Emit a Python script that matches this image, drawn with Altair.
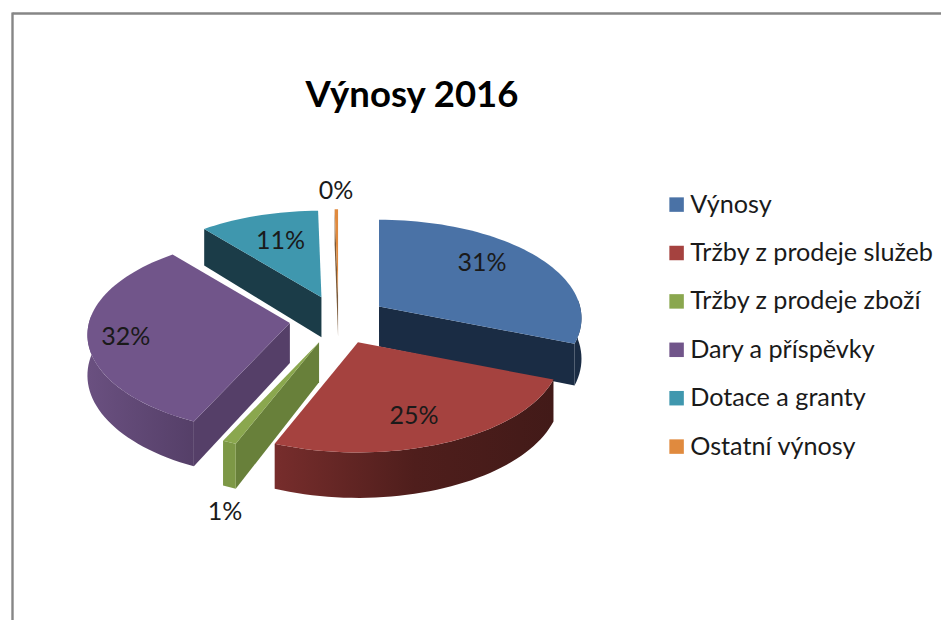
import math
import altair as alt
import pandas as pd

# ---- data ----
categories = ["Výnosy", "Tržby z prodeje služeb", "Tržby z prodeje zboží",
              "Dary a příspěvky", "Dotace a granty", "Ostatní výnosy"]
shares = [31.0, 25.0, 1.0, 32.0, 10.7, 0.3]
colors = ["#4a72a6", "#a5423f", "#8aa74e", "#71558a", "#3f97ae", "#e08a3e"]
title_text = "Výnosy 2016"

# ---- layout: projection of the tilted pie (pixels) ----
W, H = 933, 612
CX, CY = 338.5, 320.0
EX, EY = 49.0, 24.2      # explosion
RX, RY = 201.0, 97.0     # radii
P = 0.12                 # perspective
DEPTH = 40.0
FONT = "Lato"
LABEL_SHIFT = [(103, -43), (56, 74), (-94, 170), (-164, 14), (-41, -56), (-2, -105)]


def angles():
    out, a = [], 0.0
    for s in shares:
        out.append((a, a + s * 3.6))
        a += s * 3.6
    return out


def apex(i):
    a0, a1 = angles()[i]
    m = math.radians((a0 + a1) / 2)
    return CX + EX * math.sin(m), CY - EY * math.cos(m)


def pt(i, deg, down=False):
    ax, ay = apex(i)
    r = math.radians(deg)
    u, v = math.sin(r), -math.cos(r)
    k = 1 / (1 - P * v)
    return ax + RX * u * k, ay + RY * v * k + (DEPTH * k if down else 0)


def apex_pt(i, down=False):
    ax, ay = apex(i)
    return ax, ay + (DEPTH if down else 0)


def sweep(a0, a1):
    n = max(2, int(abs(a1 - a0) / 2) + 1)
    return [a0 + (a1 - a0) * j / (n - 1) for j in range(n)]


def top_face(i):
    a0, a1 = angles()[i]
    return [apex_pt(i)] + [pt(i, a) for a in sweep(a0, a1)]


def radial_wall(i, deg):
    return [apex_pt(i), pt(i, deg), pt(i, deg, True), apex_pt(i, True)]


def rim_wall(i, a0, a1):
    aa = sweep(a0, a1)
    return [pt(i, a) for a in aa] + [pt(i, a, True) for a in reversed(aa)]


def hgrad(c0, c1, c2=None):
    stops = [alt.GradientStop(color=c0, offset=0)]
    if c2:
        stops.append(alt.GradientStop(color=c1, offset=0.5))
        stops.append(alt.GradientStop(color=c2, offset=1))
    else:
        stops.append(alt.GradientStop(color=c1, offset=1))
    return alt.LinearGradient(gradient="linear", stops=stops, x1=0, x2=1, y1=0, y2=0)


X = alt.X("x:Q", scale=alt.Scale(domain=[0, W], range=[0, W], nice=False, zero=False), axis=None)
Y = alt.Y("y:Q", scale=alt.Scale(domain=[H, 0], range=[H, 0], nice=False, zero=False), axis=None)


def frame(points):
    return pd.DataFrame([{"x": px - 8, "y": py - 8, "i": j} for j, (px, py) in enumerate(points)])


def poly(points, fill):
    return alt.Chart(frame(points + points[:1])).mark_line(fill=fill, strokeWidth=0).encode(
        x=X, y=Y, order=alt.Order("i:Q"))


def edge(points, color, width):
    return alt.Chart(frame(points)).mark_line(color=color, strokeWidth=width).encode(
        x=X, y=Y, order=alt.Order("i:Q"))


A = angles()
layers = []
# cyan
layers += [poly(radial_wall(4, A[4][0]), "#1b3c48"), poly(top_face(4), colors[4])]
# orange
layers += [poly(radial_wall(5, A[5][0]), "#7a5a3a"), poly(top_face(5), colors[5])]
# blue
layers += [poly(radial_wall(0, A[0][1]), "#1a2c44"), poly(rim_wall(0, 86, A[0][1]), "#1a2c44"), poly(top_face(0), colors[0])]
# purple
layers += [poly(radial_wall(3, A[3][0]), "#553f68"),
           poly(rim_wall(3, A[3][0], 275), hgrad("#6a5080", "#553f68")),
           edge([apex_pt(3), pt(3, A[3][1])], "#ffffff", 1.5),
           poly(top_face(3), colors[3])]
# green
layers += [poly(radial_wall(2, A[2][0]), "#68803a"),
           poly(rim_wall(2, A[2][0], A[2][1]), "#7d9846"),
           poly(top_face(2), colors[2])]
# red
layers += [poly(rim_wall(1, A[1][0], A[1][1]), hgrad("#772d2c", "#4f1e1c", "#421a18")),
           poly(top_face(1), colors[1])]

# frame
layers += [
    alt.Chart(pd.DataFrame({"a": [0]})).mark_rule(color="#868686", strokeWidth=2.4).encode(
        x=alt.value(4.5), y=alt.value(4.5), y2=alt.value(H)),
    alt.Chart(pd.DataFrame({"a": [0]})).mark_rule(color="#868686", strokeWidth=2.4).encode(
        x=alt.value(4.5), x2=alt.value(W), y=alt.value(5.5)),
]

# percentage labels
lab = []
for i, s in enumerate(shares):
    ax, ay = apex(i)
    lab.append({"x": ax + LABEL_SHIFT[i][0] - 8, "y": ay + LABEL_SHIFT[i][1] - 8, "t": f"{round(s)}%"})
layers.append(alt.Chart(pd.DataFrame(lab)).mark_text(font=FONT, fontSize=25, color="#1a1a1a").encode(x=X, y=Y, text="t:N"))

# legend carrier
leg = alt.Chart(pd.DataFrame({"c": categories, "x": [0] * 6, "y": [0] * 6})).mark_square(opacity=0, size=1).encode(
    x=X, y=Y,
    color=alt.Color("c:N", scale=alt.Scale(domain=categories, range=colors),
                    legend=alt.Legend(orient="none", legendX=656, legendY=184, title=None,
                                      symbolType="square", symbolSize=210, symbolOpacity=1,
                                      symbolStrokeWidth=0, labelFont=FONT, labelFontSize=25.2,
                                      labelColor="#1a1a1a", labelOffset=1, rowPadding=22.4,
                                      labelLimit=300)))
layers.append(leg)

chart = alt.layer(*layers).properties(
    width=W, height=H, padding=0, autosize=alt.AutoSizeParams(type="none"),
    title=alt.TitleParams(title_text, anchor="middle", font=FONT, fontSize=36.5, fontWeight="bold",
                          color="#000000", dx=-62.5, dy=136, offset=0, baseline="alphabetic"),
).configure_view(stroke=None)
chart.save("out.html", embed_options={"renderer": "svg", "actions": False})
